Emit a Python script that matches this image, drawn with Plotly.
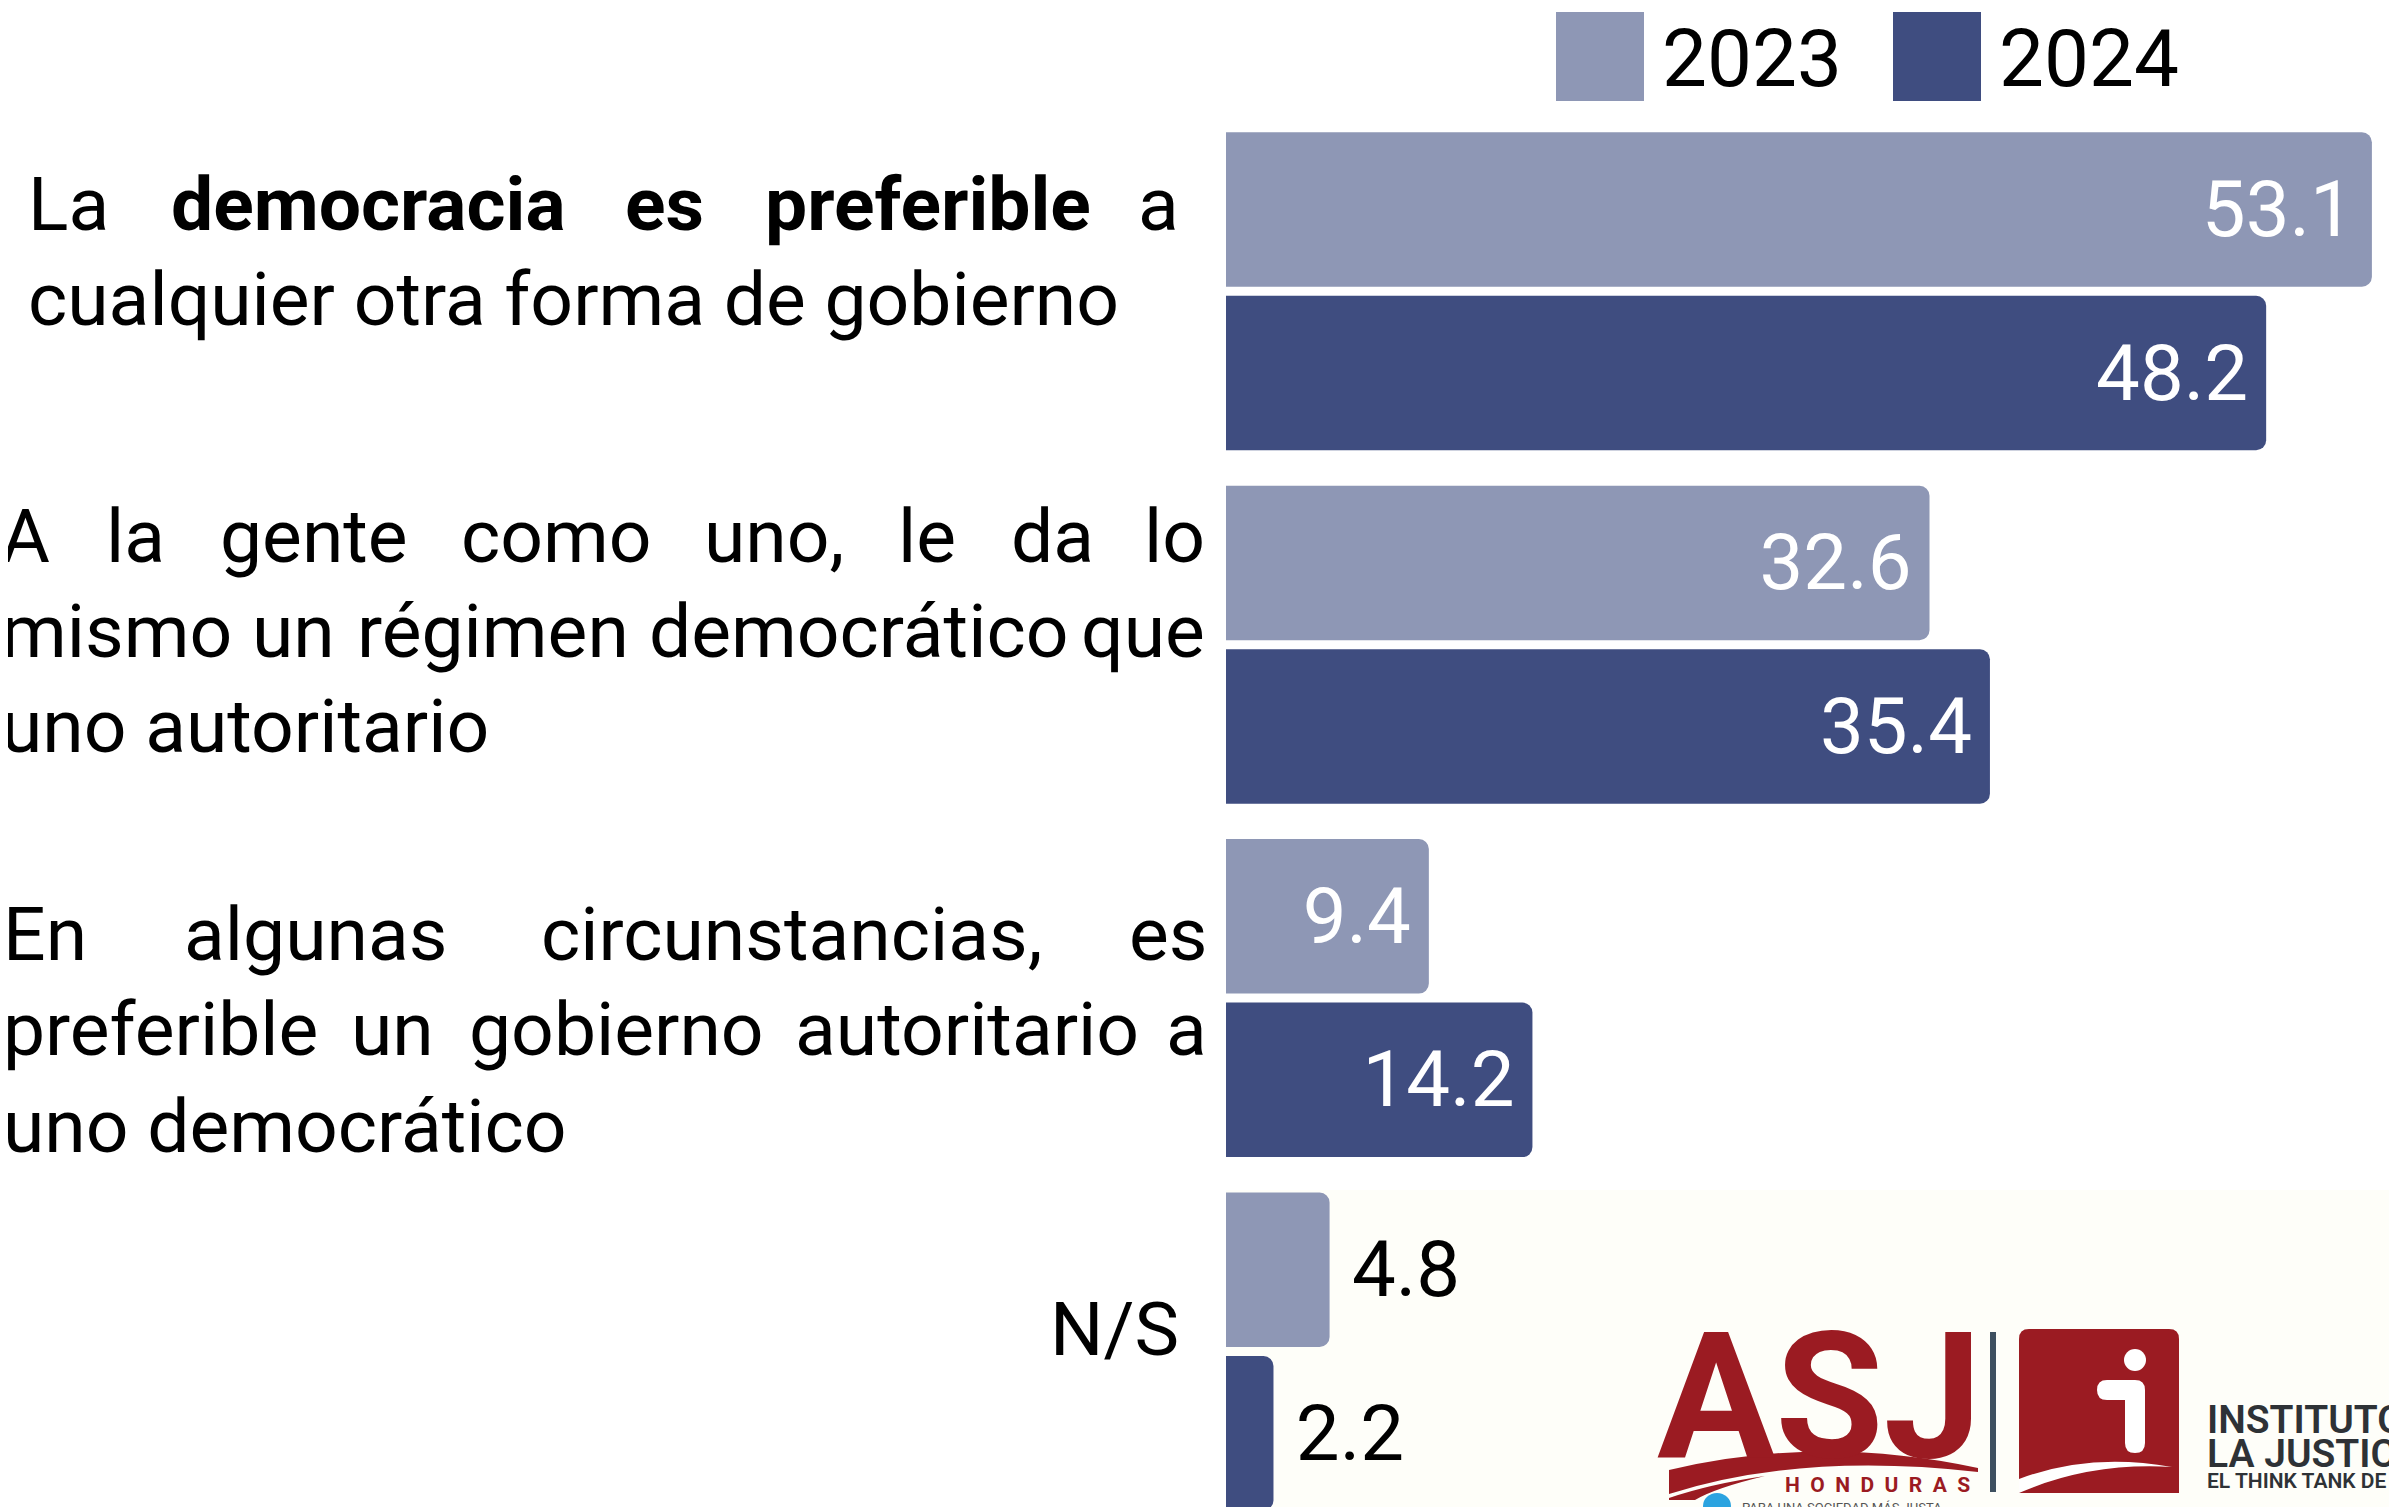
import plotly.graph_objects as go

# ---- datos ----
categorias = [
    "La democracia es preferible a cualquier otra forma de gobierno",
    "A la gente como uno, le da lo mismo un régimen democrático que uno autoritario",
    "En algunas circunstancias, es preferible un gobierno autoritario a uno democrático",
    "N/S",
]
lineas_etiqueta = [
    ["La <b>democracia</b> <b>es</b> <b>preferible</b> a", "cualquier otra forma de gobierno"],
    ["A la gente como uno, le da lo", "mismo un régimen democrático que", "uno autoritario"],
    ["En algunas circunstancias, es", "preferible un gobierno autoritario a", "uno democrático"],
    ["N/S"],
]
anios = ["2023", "2024"]
valores_2023 = [53.1, 32.6, 9.4, 4.8]
valores_2024 = [48.2, 35.4, 14.2, 2.2]
colores = ["#8E97B5", "#3F4D80"]

logo_asj = "ASJ"
logo_honduras = "HONDURAS"
logo_lema = "PARA UNA SOCIEDAD MÁS JUSTA"
logo_instituto = ["INSTITUTO DE", "LA JUSTICIA", "EL THINK TANK DE ASJ"]

# ---- lienzo ----
W, H = 2397, 1507
OFF = 8              # margen del body de la pagina
BASE = 1226          # pixel donde empiezan las barras
PX_UNIDAD = 21.58    # pixeles por punto porcentual
CAT0, PASO = 291.3, 353.4   # centro de la primera categoria y paso entre categorias
FUENTE = "Roboto"
ROJO = "#9B1B22"


def X(px):
    return (px - OFF) / W


def Y(py):
    return 1 - (py - OFF) / H


# anchos aproximados de Roboto (em) para justificar el texto
ANCHOS = {
    "a": .531, "b": .548, "c": .511, "d": .550, "e": .517, "f": .339, "g": .548,
    "h": .538, "i": .237, "j": .233, "k": .495, "l": .237, "m": .855, "n": .539,
    "o": .557, "p": .548, "q": .554, "r": .331, "s": .503, "t": .319, "u": .538,
    "v": .473, "w": .733, "x": .484, "y": .462, "z": .484, " ": .248, ",": .192,
    "A": .652, "E": .568, "L": .539, "N": .696, "S": .594, "/": .412,
    "é": .517, "á": .531,
}


def ancho(palabra, size):
    negrita = "<b>" in palabra
    t = palabra.replace("<b>", "").replace("</b>", "")
    w = sum(ANCHOS.get(ch, .53) for ch in t) * size * 1.01
    return w * 1.01 if negrita else w


fig = go.Figure()

for anio, vals, color in zip(anios, [valores_2023, valores_2024], colores):
    dentro = [v > 8 for v in vals]
    fig.add_trace(go.Bar(
        y=categorias, x=vals, orientation="h", name=anio,
        marker=dict(color=color, cornerradius=10, line_width=0),
        text=[f"{v:.1f}\u200a" if d else f"&nbsp;{v:.1f}" for v, d in zip(vals, dentro)],
        textposition=["inside" if d else "outside" for d in dentro],
        insidetextanchor="end", textangle=0, constraintext="none",
        insidetextfont=dict(family=FUENTE, size=78, color="white"),
        outsidetextfont=dict(family=FUENTE, size=78, color="black"),
        cliponaxis=False, hoverinfo="skip",
    ))

anotaciones = []
formas = []

# ---- etiquetas de categoria (texto justificado) ----
FS = 75
bloques = [
    dict(x0=26, x1=1181, ys=[204, 299]),
    dict(x0=-1, x1=1207, ys=[536, 631, 726]),
    dict(x0=1, x1=1209, ys=[934, 1029, 1126]),
    dict(x0=None, x1=1181, ys=[1329]),
]
for lineas, b in zip(lineas_etiqueta, bloques):
    for k, (linea, yy) in enumerate(zip(lineas, b["ys"])):
        base = dict(yref="paper", xref="paper", y=Y(yy), yanchor="middle", showarrow=False,
                    font=dict(family=FUENTE, size=FS, color="black"))
        if b["x0"] is None:
            anotaciones.append(dict(base, text=linea, x=X(b["x1"]), xanchor="right"))
            continue
        if k == len(lineas) - 1:
            anotaciones.append(dict(base, text=linea, x=X(b["x0"]), xanchor="left"))
            continue
        palabras = linea.split(" ")
        anchos = [ancho(p, FS) for p in palabras]
        hueco = (b["x1"] - b["x0"] - sum(anchos)) / (len(palabras) - 1)
        xx = b["x0"]
        for i, (p, w) in enumerate(zip(palabras, anchos)):
            if i == len(palabras) - 1:
                anotaciones.append(dict(base, text=p, x=X(b["x1"]), xanchor="right"))
            else:
                anotaciones.append(dict(base, text=p, x=X(xx), xanchor="left"))
            xx += w + hueco

# ---- leyenda ----
for anio, color, x0 in zip(anios, colores, [1556, 1893]):
    formas.append(dict(type="rect", xref="paper", yref="paper", x0=X(x0), x1=X(x0 + 88),
                       y0=Y(12), y1=Y(101), fillcolor=color, line_width=0))
    anotaciones.append(dict(text=anio, xref="paper", yref="paper", x=X(x0 + 104), y=Y(59),
                            xanchor="left", yanchor="middle", showarrow=False,
                            font=dict(family=FUENTE, size=80, color="black")))

# ---- fondo del logo ----
formas.append(dict(type="rect", xref="paper", yref="paper", x0=X(BASE), x1=1, y0=0, y1=Y(1190),
                   fillcolor="#FEFEF9", line_width=0, layer="below"))


def ruta(puntos):
    # puntos en pixeles -> path en coordenadas paper
    out = []
    for p in puntos:
        if isinstance(p, str):
            out.append(p)
        else:
            out.append(f"{X(p[0]):.5f},{Y(p[1]):.5f}")
    return " ".join(out)


# logo ASJ
anotaciones.append(dict(text=f"<b>{logo_asj}</b>", xref="paper", yref="paper", x=X(1820), y=Y(1397),
                        xanchor="center", yanchor="middle", showarrow=False,
                        font=dict(family="Liberation Sans Narrow, Roboto", size=176, color=ROJO)))
formas.append(dict(type="path", xref="paper", yref="paper", fillcolor=ROJO, line_width=0,
                   path=ruta(["M", (1669, 1470), "Q", (1820, 1434), (1978, 1468),
                              "L", (1978, 1472), "Q", (1800, 1452), (1669, 1494), "Z"])))
formas.append(dict(type="path", xref="paper", yref="paper", fillcolor=ROJO, line_width=0,
                   path=ruta(["M", (1669, 1498), "Q", (1710, 1484), (1765, 1476),
                              "Q", (1715, 1488), (1695, 1500), "L", (1669, 1500), "Z"])))
anotaciones.append(dict(text="&nbsp;&nbsp;".join(logo_honduras), xref="paper", yref="paper",
                        x=X(1972), y=Y(1485), xanchor="right", yanchor="middle", showarrow=False,
                        font=dict(family=FUENTE, size=21, color=ROJO, weight="bold")))
formas.append(dict(type="circle", xref="paper", yref="paper", x0=X(1703), x1=X(1731),
                   y0=Y(1519), y1=Y(1493), fillcolor="#2BA3E0", line_width=0))
anotaciones.append(dict(text=logo_lema, xref="paper", yref="paper", x=X(1740), y=Y(1507),
                        xanchor="left", yanchor="middle", showarrow=False,
                        font=dict(family=FUENTE, size=13, color="#555555")))

# separador
formas.append(dict(type="rect", xref="paper", yref="paper", x0=X(1990), x1=X(1996),
                   y0=Y(1492), y1=Y(1332), fillcolor="#3E5060", line_width=0))

# cuadro rojo con la "i"
r = 10
formas.append(dict(type="path", xref="paper", yref="paper", fillcolor=ROJO, line_width=0,
                   path=ruta(["M", (2019 + r, 1329), "L", (2179 - r, 1329), "Q", (2179, 1329), (2179, 1329 + r),
                              "L", (2179, 1493), "L", (2019, 1493), "L", (2019, 1329 + r),
                              "Q", (2019, 1329), (2019 + r, 1329), "Z"])))
formas.append(dict(type="circle", xref="paper", yref="paper", x0=X(2124), x1=X(2146),
                   y0=Y(1371), y1=Y(1349), fillcolor="white", line_width=0))
formas.append(dict(type="path", xref="paper", yref="paper", fillcolor="white", line_width=0,
                   path=ruta(["M", (2107, 1380), "L", (2135, 1380), "Q", (2145, 1380), (2145, 1390),
                              "L", (2145, 1443), "Q", (2145, 1453), (2135, 1453),
                              "Q", (2125, 1453), (2125, 1443), "L", (2125, 1400), "L", (2107, 1400),
                              "Q", (2097, 1400), (2097, 1390), "Q", (2097, 1380), (2107, 1380), "Z"])))
formas.append(dict(type="path", xref="paper", yref="paper", fillcolor="white", line_width=0,
                   path=ruta(["M", (2019, 1479), "Q", (2090, 1452), (2172, 1467),
                              "Q", (2090, 1462), (2019, 1493), "Z"])))

for texto, yy, fs in zip(logo_instituto, [1420, 1454, 1481], [39, 39, 21]):
    anotaciones.append(dict(text=texto, xref="paper", yref="paper", x=X(2205), y=Y(yy),
                            xanchor="left", yanchor="middle", showarrow=False,
                            font=dict(family=FUENTE, size=fs, color="#2E3236", weight=600)))

fig.update_layout(
    width=W, height=H,
    margin=dict(l=0, r=0, t=0, b=0),
    paper_bgcolor="white", plot_bgcolor="rgba(0,0,0,0)",
    barmode="group", bargap=0.0747, bargroupgap=0.055,
    showlegend=False,
    font=dict(family=FUENTE),
    xaxis=dict(domain=[X(BASE), 1], range=[0, (W + OFF - BASE) / PX_UNIDAD], visible=False),
    yaxis=dict(type="category", range=[(H + OFF - CAT0) / PASO, (OFF - CAT0) / PASO], visible=False),
    annotations=anotaciones,
    shapes=formas,
)

fig.write_html("out.html")
